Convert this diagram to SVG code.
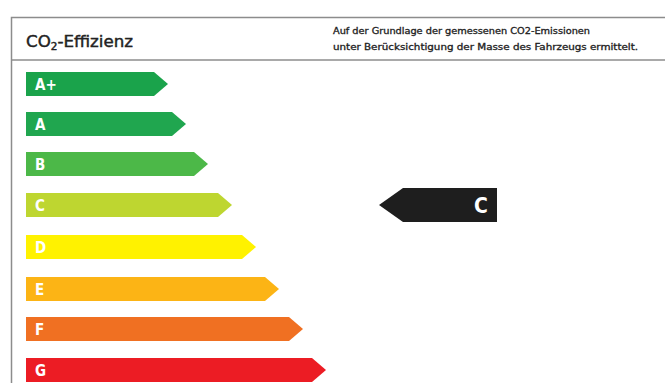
<svg xmlns="http://www.w3.org/2000/svg" width="665" height="383" viewBox="0 0 665 383">
<style>
.frame{fill:none;stroke:#8c8c8c;stroke-width:1.5}
.lbl{font-family:"DejaVu Sans Condensed","DejaVu Sans",sans-serif;font-weight:bold;font-size:15px;fill:#ffffff}
.big{font-size:21px}
.title{font-family:"DejaVu Sans Condensed","DejaVu Sans",sans-serif;font-size:16px;fill:#222222;stroke:#222222;stroke-width:0.4}
.note{font-family:"DejaVu Sans Condensed","DejaVu Sans",sans-serif;font-size:9.5px;fill:#222222;stroke:#222222;stroke-width:0.3}
</style>
<rect width="665" height="383" fill="#ffffff"/>
<g id="frame">
<path class="frame" d="M665,17.5 H11.5 V383"/>
<line class="frame" x1="11.5" y1="60" x2="665" y2="60"/>
</g>
<g id="header">
<text class="title" x="26" y="47" textLength="107" lengthAdjust="spacingAndGlyphs">CO<tspan font-size="10" dy="3">2</tspan><tspan dy="-3">-Effizienz</tspan></text>
<text class="note" x="333" y="34" textLength="257" lengthAdjust="spacingAndGlyphs">Auf der Grundlage der gemessenen CO2-Emissionen</text>
<text class="note" x="333" y="50" textLength="305" lengthAdjust="spacingAndGlyphs">unter Berücksichtigung der Masse des Fahrzeugs ermittelt.</text>
</g>
<g id="bar-Aplus"><path d="M26,72 H154 L168,84 L154,96 H26 Z" fill="#1aa34b"/><text class="lbl" x="35" y="89.5">A+</text></g>
<g id="bar-A"><path d="M26,112 H172 L186,124 L172,136 H26 Z" fill="#20a64f"/><text class="lbl" x="35" y="129.5">A</text></g>
<g id="bar-B"><path d="M26,152 H194 L208,164 L194,176 H26 Z" fill="#4cb848"/><text class="lbl" x="35" y="169.5">B</text></g>
<g id="bar-C"><path d="M26,193 H218 L232,205 L218,217 H26 Z" fill="#bed630"/><text class="lbl" x="35" y="210.5">C</text></g>
<g id="bar-D"><path d="M26,235 H242 L256,247 L242,259 H26 Z" fill="#fff200"/><text class="lbl" x="35" y="252.5">D</text></g>
<g id="bar-E"><path d="M26,277 H265 L279,289 L265,301 H26 Z" fill="#fcb415"/><text class="lbl" x="35" y="294.5">E</text></g>
<g id="bar-F"><path d="M26,317 H289 L303,329 L289,341 H26 Z" fill="#f07022"/><text class="lbl" x="35" y="334.5">F</text></g>
<g id="bar-G"><path d="M26,358 H312 L326,370 L312,382 H26 Z" fill="#ec1c24"/><text class="lbl" x="35" y="375.5">G</text></g>
<g id="indicator"><path d="M497,188 V222 H403 L379,205 L403,188 Z" fill="#1e1e1e"/><text class="lbl big" x="474" y="213">C</text></g>
</svg>
